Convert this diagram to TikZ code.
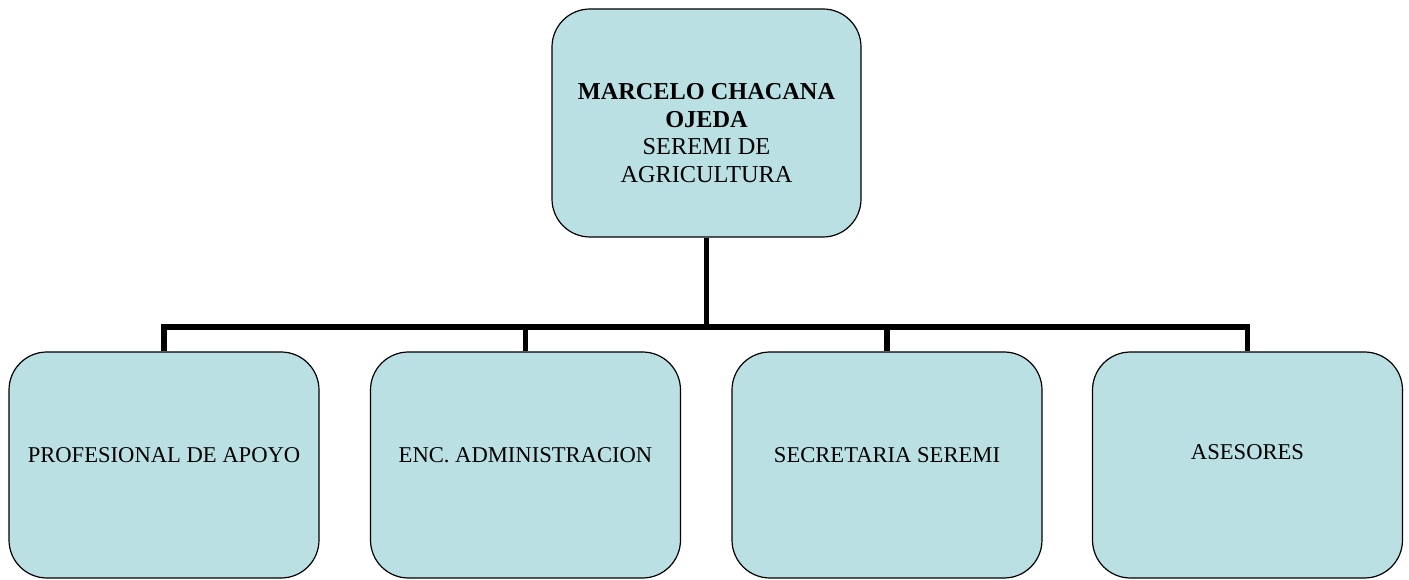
\documentclass[tikz,border=0pt]{standalone}
\usepackage{fontspec}
\setmainfont{Liberation Serif}
\definecolor{celeste}{RGB}{186,224,227}

\begin{document}
\begin{tikzpicture}[x=1pt, y=1pt,
        caja/.style={draw=black, line width=1.2pt, fill=celeste, rounded corners=38pt,
            minimum width=310pt, minimum height=226pt, inner sep=0pt},
        texto/.style={font=\fontsize{22.6}{27.5}\selectfont, align=center, inner sep=0pt},
        conector/.style={line width=5.5pt, line join=miter}]
        \useasboundingbox (0,0) rectangle (1409,579);

        % jefatura
        \node[caja, minimum width=309pt, minimum height=228pt,
            label={[texto, font=\fontsize{24.3}{27.7}\selectfont, yshift=-10pt]center:{\textbf{MARCELO CHACANA}\\\textbf{OJEDA}\\SEREMI DE\\AGRICULTURA}}]
            (seremi) at (706.5,456) {};

        % unidades
        \node[caja, label={[texto, yshift=9.5pt]center:PROFESIONAL DE APOYO}] (profesional) at (164,114) {};
        \node[caja, label={[texto, yshift=9.5pt]center:ENC. ADMINISTRACION}] (administracion) at (525.5,114) {};
        \node[caja, label={[texto, yshift=9.5pt]center:SECRETARIA SEREMI}] (secretaria) at (887,114) {};
        \node[caja, label={[texto, yshift=13pt]center:ASESORES}] (asesores) at (1247.5,114) {};

        \coordinate (barra) at (0,252);

        \draw[conector] (seremi.south) -- (seremi.south |- barra);
        \draw[conector] (profesional.north) |- (asesores.north |- barra) -- (asesores.north);
        \draw[conector] (administracion.north) -- (administracion.north |- barra);
        \draw[conector] (secretaria.north) -- (secretaria.north |- barra);
    \end{tikzpicture}
\end{document}
